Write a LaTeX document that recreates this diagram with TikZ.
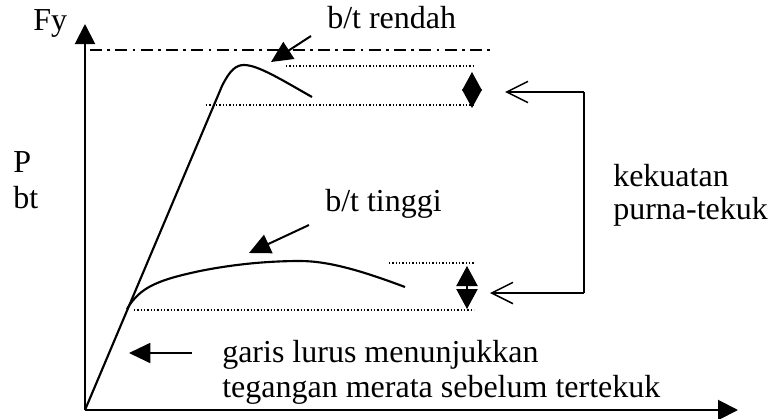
\documentclass[tikz,border=0pt]{standalone}
\usepackage{fontspec}
\setmainfont{Liberation Serif}
\usetikzlibrary{arrows.meta}
\begin{document}
\begin{tikzpicture}[x=0.75pt,y=-0.75pt,
  txt/.style={anchor=base west,inner sep=0pt,font=\fontsize{24}{28}\selectfont},
  curve/.style={line width=1.6pt},
  axis/.style={line width=1.5pt,-{Triangle[length=15pt,width=15pt]}},
  pointer/.style={line width=1.5pt,-{Triangle[length=16pt,width=15pt]}},
  barb/.style={line width=1.1pt,-{Straight Barb[length=16pt,width=16pt,line width=1.1pt]}},
  dots/.style={line width=1pt,dash pattern=on 0.9pt off 1.6pt},
  dashdot/.style={line width=1.1pt,dash pattern=on 9pt off 4pt on 2pt off 4pt},
  dbl/.style={line width=0.8pt,{Triangle[length=14pt,width=15pt]}-{Triangle[length=14pt,width=15pt]}},
  dblb/.style={line width=0.8pt,{Triangle[length=15pt,width=16pt]}-{Triangle[length=15pt,width=16pt]}}]
\useasboundingbox (0,0) rectangle (768,418);
% axes
\coordinate (O) at (85,410);
\coordinate (ytop) at (85,24);
\coordinate (xend) at (738,410);
\draw[axis] (O) -- (ytop);
\draw[axis] (O) -- (xend);
% dash-dot yield line
\coordinate (dd1) at (90,50);
\coordinate (dd2) at (495,50);
\draw[dashdot] (dd1) -- (dd2);
% curves
\draw[curve] (O) -- (222,86) .. controls (230,70) and (236,65) .. (244,65)
  .. controls (258,65) and (282,80) .. (312,97);
\coordinate (br) at (127,309);
\draw[curve] (br) .. controls (140,287) and (158,280) .. (200,271)
  .. controls (240,263) and (275,261) .. (300,261)
  .. controls (330,261) and (365,272) .. (405,287);
% dotted levels
\coordinate (d1a) at (286,66); \coordinate (d1b) at (473,66);
\coordinate (d2a) at (206,105); \coordinate (d2b) at (473,105);
\coordinate (d3a) at (389,263); \coordinate (d3b) at (474,263);
\coordinate (d4a) at (134,310); \coordinate (d4b) at (474,310);
\draw[dots] (d1a) -- (d1b);
\draw[dots] (d2a) -- (d2b);
\draw[dots] (d3a) -- (d3b);
\draw[dots] (d4a) -- (d4b);
% double arrows
\coordinate (u1) at (472,72); \coordinate (u2) at (472,108);
\draw[dbl] (u1) -- (u2);
\coordinate (l1) at (467,266); \coordinate (l2) at (467,309);
\draw[dblb] (l1) -- (l2);
% bracket with open arrows
\coordinate (bt) at (584,92); \coordinate (bb) at (584,293);
\coordinate (at) at (505,92); \coordinate (ab) at (490,293);
\draw[line width=1.3pt] (bt) -- (bb);
\draw[barb] (bt) -- (at);
\draw[barb] (bb) -- (ab);
% pointer arrows
\coordinate (p1s) at (311,36); \coordinate (p1e) at (271,62);
\draw[pointer] (p1s) -- (p1e);
\coordinate (p2s) at (309,225); \coordinate (p2e) at (249,253);
\draw[pointer] (p2s) -- (p2e);
\coordinate (p3s) at (192,353); \coordinate (p3e) at (129,353);
\draw[pointer] (p3s) -- (p3e);
% texts
\node[txt] (fy) at (33,30) {Fy};
\node[txt] (p) at (13,172) {P};
\node[txt] (bt2) at (13,208) {bt};
\node[txt] (rendah) at (327,28) {b/t rendah};
\node[txt] (tinggi) at (325,211) {b/t tinggi};
\node[txt] (kek) at (613,186) {kekuatan};
\node[txt] (purna) at (613,219) {purna-tekuk};
\node[txt] (garis) at (222,362) {garis lurus menunjukkan};
\node[txt] (teg) at (222,397) {tegangan merata sebelum tertekuk};
\end{tikzpicture}
\end{document}
